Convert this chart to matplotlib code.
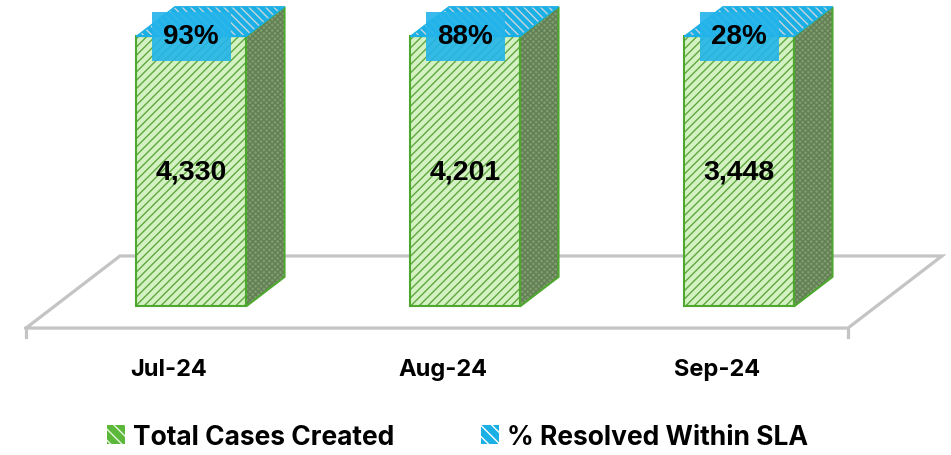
import numpy as np
import matplotlib
matplotlib.use('agg')
from matplotlib import pyplot as plt
from matplotlib.patches import Polygon, Patch

# data
months = ['Jul-24', 'Aug-24', 'Sep-24']
total_cases = [4330, 4201, 3448]
pct_resolved = [0.93, 0.88, 0.28]
series_names = ['Total Cases Created', '% Resolved Within SLA']

# 3d look
DX, DY = 0.343, 0.267      # offset for full floor depth
D0, D1 = 0.30, 0.71        # bar front / back depth
BAR_W = 0.40

FRONT_FILL = '#d3f1c2'
FRONT_HATCH = '#5fa83e'
EDGE = '#4ea72e'
SIDE_FILL = '#7f9c70'
SIDE_HATCH = '#617f52'
BLUE = '#1ab0e6'
FLOOR = '#c4c4c4'
LABEL_FONT = 'Inter'

plt.rcParams['hatch.linewidth'] = 1.0

fig = plt.figure(figsize=(9.51, 4.56), dpi=100)
ax = fig.add_axes([0, 0, 1, 1])
ax.set_xlim(-0.595, 2.876)
ax.set_ylim(-0.470, 1.2185)
ax.axis('off')


def proj(x, y, d):
    return (x + DX * d, y + DY * d)


def face(pts, fill, hatch, hcolor, z, edge=EDGE, lw=1.5):
    ax.add_patch(Polygon(pts, closed=True, facecolor=fill, edgecolor=hcolor,
                         hatch=hatch, linewidth=0, zorder=z))
    ax.add_patch(Polygon(pts, closed=True, facecolor='none', edgecolor=edge,
                         linewidth=lw, zorder=z + 0.1))


# floor
n = len(months)
fl, fr = -0.5, n - 0.5
floor_pts = [proj(fl, 0, 0), proj(fr, 0, 0), proj(fr, 0, 1), proj(fl, 0, 1)]
xs = [p[0] for p in floor_pts] + [floor_pts[0][0]]
ys = [p[1] for p in floor_pts] + [floor_pts[0][1]]
ax.plot(xs, ys, color=FLOOR, lw=2.3, zorder=1, solid_joinstyle='miter')
for xt in [fl, fr]:
    ax.plot([xt, xt], [0, -0.034], color=FLOOR, lw=2.3, zorder=1)

# bars (100% stacked)
for i in range(n):
    tot = total_cases[i] + pct_resolved[i]
    h1 = total_cases[i] / tot
    h2 = pct_resolved[i] / tot
    x0, x1 = i - BAR_W / 2, i + BAR_W / 2
    top = h1 + h2
    # front face of main series
    front = [proj(x0, 0, D0), proj(x1, 0, D0), proj(x1, h1, D0), proj(x0, h1, D0)]
    face(front, FRONT_FILL, '////', FRONT_HATCH, 3)
    # side face
    side = [proj(x1, 0, D0), proj(x1, 0, D1), proj(x1, h1, D1), proj(x1, h1, D0)]
    face(side, SIDE_FILL, 'xxxxxx', SIDE_HATCH, 3)
    # top segment (% series) and top face
    seg = [proj(x0, h1, D0), proj(x1, h1, D0), proj(x1, top, D0), proj(x0, top, D0)]
    face(seg, BLUE, None, BLUE, 4, edge=BLUE)
    topf = [proj(x0, top, D0), proj(x1, top, D0), proj(x1, top, D1), proj(x0, top, D1)]
    face(topf, BLUE, '\\\\\\\\', '#c8d4dc', 4, edge=BLUE, lw=1.0)

    cx, cy = proj(i, h1 / 2, D0)
    ax.text(cx, cy, f'{total_cases[i]:,}', ha='center', va='center',
            fontsize=20.5, fontweight='bold', family='Liberation Sans', zorder=6)
    px, py = proj(i, top, D0)
    ax.text(px, py, f'{pct_resolved[i]:.0%}', ha='center', va='center',
            fontsize=20, fontweight='bold', family='Liberation Sans', zorder=7,
            bbox=dict(boxstyle='square,pad=0.42', facecolor='#22b4ea',
                      edgecolor='none', alpha=0.9))

    ax.text(i + 0.022, -0.152, months[i], ha='center', va='center',
            fontsize=17, fontweight='bold', family=LABEL_FONT)

# legend
handles = [Patch(facecolor='#5cb83a', edgecolor='#e8f6e0', hatch='\\\\\\',
                 linewidth=0),
           Patch(facecolor=BLUE, edgecolor='white', hatch='\\\\\\', linewidth=0)]
leg = ax.legend(handles, series_names, loc='center', ncol=2,
                bbox_to_anchor=(0.481, 0.04), frameon=False,
                handlelength=0.68, handleheight=0.68, handletextpad=0.3,
                columnspacing=3.3,
                prop={'family': LABEL_FONT, 'weight': 'bold', 'size': 19})

plt.savefig('out.png', dpi=100)
plt.close()
